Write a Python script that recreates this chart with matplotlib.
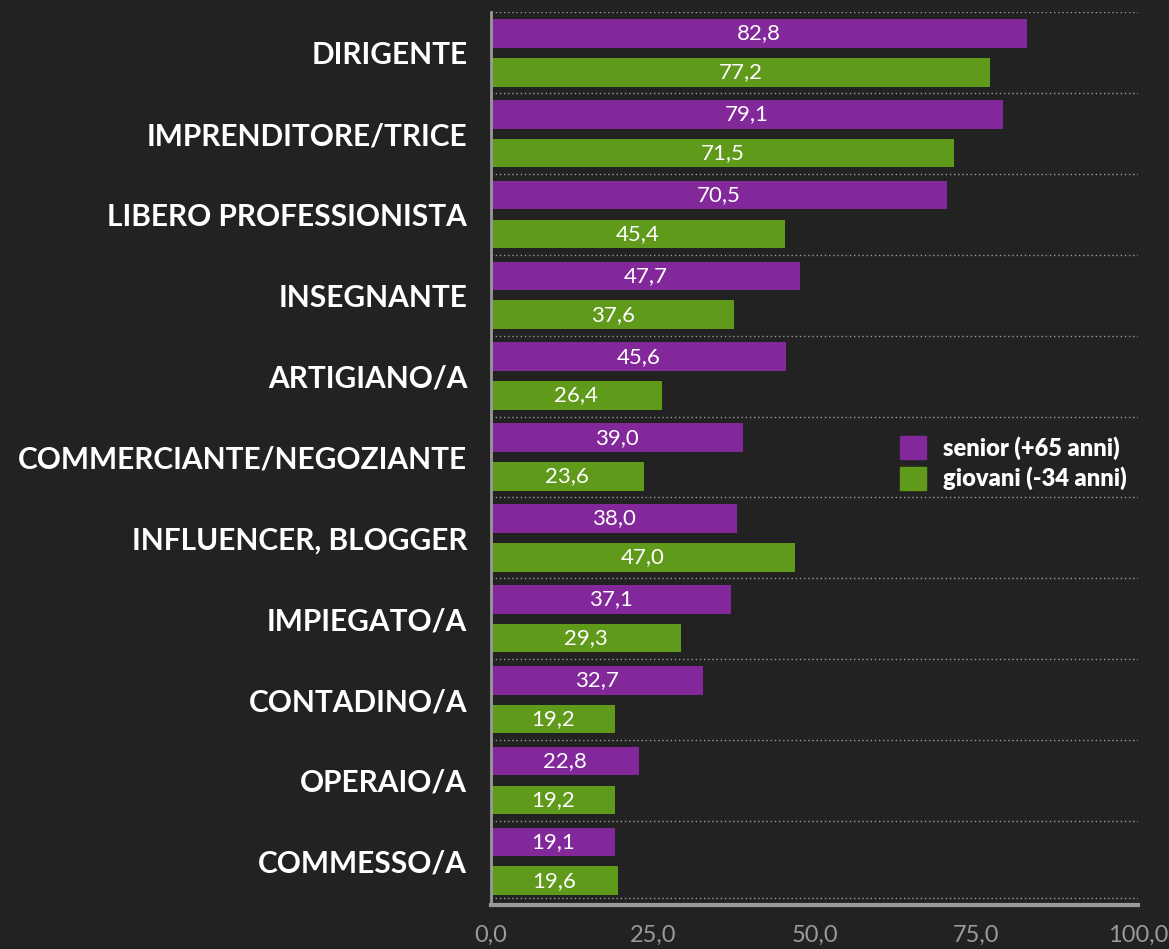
import numpy as np
import matplotlib
import matplotlib.pyplot as plt
from matplotlib.patches import Patch

matplotlib.rcParams['font.family'] = ['Lato', 'DejaVu Sans']

categories = ["DIRIGENTE", "IMPRENDITORE/TRICE", "LIBERO PROFESSIONISTA", "INSEGNANTE",
              "ARTIGIANO/A", "COMMERCIANTE/NEGOZIANTE", "INFLUENCER, BLOGGER",
              "IMPIEGATO/A", "CONTADINO/A", "OPERAIO/A", "COMMESSO/A"]
senior = [82.8, 79.1, 70.5, 47.7, 45.6, 39.0, 38.0, 37.1, 32.7, 22.8, 19.1]
giovani = [77.2, 71.5, 45.4, 37.6, 26.4, 23.6, 47.0, 29.3, 19.2, 19.2, 19.6]
series_names = ["senior (+65 anni)", "giovani (-34 anni)"]
xticks = [0, 25, 50, 75, 100]

bg = "#222222"
purple = "#83289a"
green = "#5f9a1a"

fig = plt.figure(figsize=(11.69, 9.49), dpi=100, facecolor=bg)
ax = fig.add_axes([0.42, 0.0464, 0.5535, 0.9406])
ax.set_facecolor(bg)

y = np.arange(len(categories))
h = 0.355
off = 0.24
bs = ax.barh(y - off, senior, height=h, color=purple)
bg_ = ax.barh(y + off, giovani, height=h, color=green)

def fmt(v):
    return ("%.1f" % v).replace(".", ",")

for bars, vals in ((bs, senior), (bg_, giovani)):
    for b, v in zip(bars, vals):
        ax.text(v / 2, b.get_y() + b.get_height() / 2, fmt(v), ha="center", va="center",
                color="white", fontsize=16)

for g in np.arange(len(categories) + 1) - 0.5:
    if g < len(categories) - 0.5:
        ax.axhline(g, color="#9a9a9a", lw=1, ls=(0, (1, 2)), zorder=0)
    else:
        ax.axhline(g - 0.04, color="#9a9a9a", lw=1, ls=(0, (1, 2)), zorder=0)

ax.set_xlim(0, 100)
ax.set_ylim(len(categories) - 0.5 + 0.04, -0.5)
ax.set_yticks(y)
ax.set_yticklabels(categories, color="white", fontsize=21.5, fontweight="bold")
ax.set_xticks(xticks)
ax.set_xticklabels([fmt(v) for v in xticks], color="#9a9a9a", fontsize=17)
ax.tick_params(axis="y", length=0, pad=17)
ax.tick_params(axis="x", length=0, pad=14)

for s in ("top", "right"):
    ax.spines[s].set_visible(False)
ax.spines["left"].set_color("#9a9a9a")
ax.spines["left"].set_linewidth(2)
ax.spines["bottom"].set_color("#9a9a9a")
ax.spines["bottom"].set_linewidth(3)

handles = [Patch(color=purple), Patch(color=green)]
leg = ax.legend(handles, series_names, loc="upper left", bbox_to_anchor=(0.752, 0.545 + 0.018),
                bbox_transform=fig.transFigure, frameon=False, handlelength=1.1,
                handleheight=1.1, handletextpad=0.7, labelspacing=0.3,
                prop={"size": 17, "weight": "bold"})
for t in leg.get_texts():
    t.set_color("white")
    t.set_fontweight("heavy")

fig.savefig("out.png", dpi=100, facecolor=bg)
